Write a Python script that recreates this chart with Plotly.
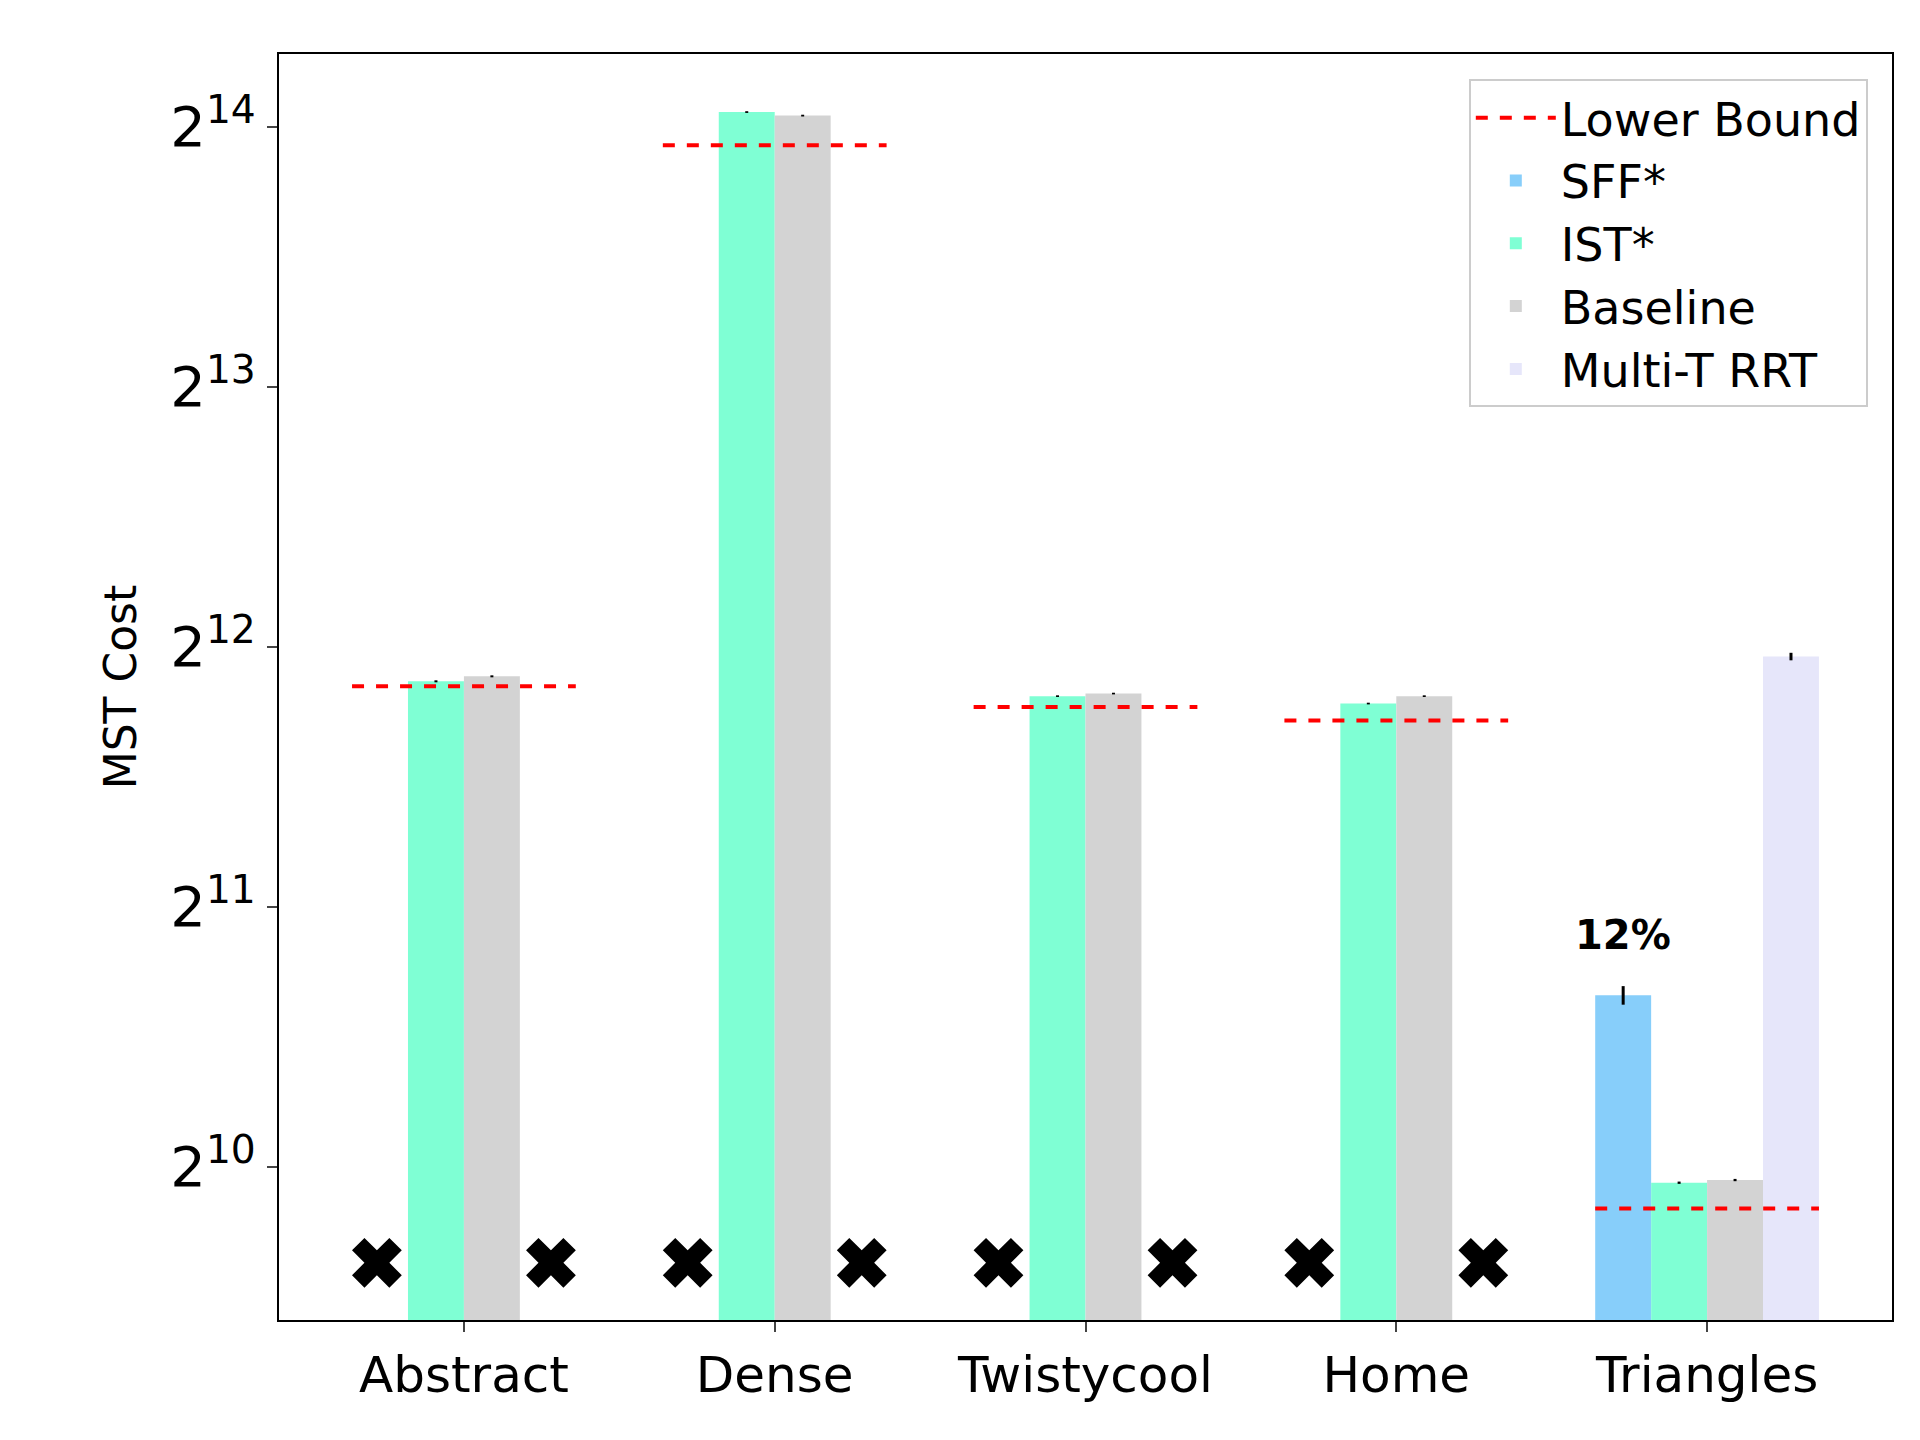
import plotly.graph_objects as go
import math

categories = ["Abstract", "Dense", "Twistycool", "Home", "Triangles"]
sff = [None, None, None, None, 1617]
ist = [3735, 17040, 3590, 3520, 981]
baseline = [3785, 16880, 3615, 3590, 988]
multit = [None, None, None, None, 3990]
lower = [3686, 15600, 3488, 3364, 916]
sff_err = [0, 0, 0, 0, 40]
ist_err = [10, 40, 8, 8, 3]
base_err = [10, 40, 8, 8, 3]
multit_err = [0, 0, 0, 0, 40]
failed_marker_y = 2 ** 9.63

xs = list(range(len(categories)))
w = 0.18
fig = go.Figure()

lx, ly = [], []
for i, v in enumerate(lower):
    lx += [i - 0.36, i + 0.36, None]
    ly += [v, v, None]
fig.add_trace(go.Scatter(x=lx, y=ly, mode="lines", name="Lower Bound",
                         line=dict(color="red", dash="dash", width=4)))

def bars(vals, errs, off, color, name):
    fig.add_trace(go.Bar(x=[x + off for x in xs], y=vals, width=w, name=name,
                         marker=dict(color=color, line=dict(width=0)),
                         error_y=dict(type="data", array=errs, color="black", thickness=3, width=0)))

bars(sff, sff_err, -0.27, "#87CEFA", "SFF*")
bars(ist, ist_err, -0.09, "#7FFFD4", "IST*")
bars(baseline, base_err, 0.09, "#D3D3D3", "Baseline")
bars(multit, multit_err, 0.27, "#E6E6FA", "Multi-T RRT")

cx, cy = [], []
for i in xs:
    if sff[i] is None:
        cx.append(i - 0.28); cy.append(failed_marker_y)
    if multit[i] is None:
        cx.append(i + 0.28); cy.append(failed_marker_y)
fig.add_trace(go.Scatter(x=cx, y=cy, mode="markers", showlegend=False,
                         marker=dict(symbol="x", size=44, color="black", line=dict(width=0))))

fig.add_annotation(x=4 - 0.27, y=math.log10(1617 * 1.1), text="<b>12%</b>", showarrow=False,
                   yanchor="bottom", font=dict(size=40, color="black"))

tv = [2 ** k for k in range(10, 15)]
fig.update_layout(
    width=1920, height=1440, plot_bgcolor="white", paper_bgcolor="white",
    font=dict(family="DejaVu Sans", color="black"),
    margin=dict(l=271, r=36, t=46, b=128),
    barmode="overlay",
    xaxis=dict(range=[-0.595, 4.595], tickvals=xs, ticktext=categories, showgrid=False,
               showline=True, linecolor="black", linewidth=2, mirror=True,
               ticks="outside", ticklen=10, tickwidth=2, tickfont=dict(size=50)),
    yaxis=dict(type="log", range=[9.41 * math.log10(2), 14.28 * math.log10(2)],
               tickvals=tv, ticktext=[f"2<sup>{k}</sup>" for k in range(10, 15)],
               showgrid=False, showline=True, linecolor="black", linewidth=2, mirror=True,
               ticks="outside", ticklen=10, tickwidth=2, tickfont=dict(size=56),
               title=dict(text="MST Cost", font=dict(size=44), standoff=20)),
    legend=dict(x=0.985, y=0.98, xanchor="right", yanchor="top", bgcolor="white",
                bordercolor="#cccccc", borderwidth=2, font=dict(size=46),
                itemwidth=80, tracegroupgap=0),
)
fig.write_html("out.html")
